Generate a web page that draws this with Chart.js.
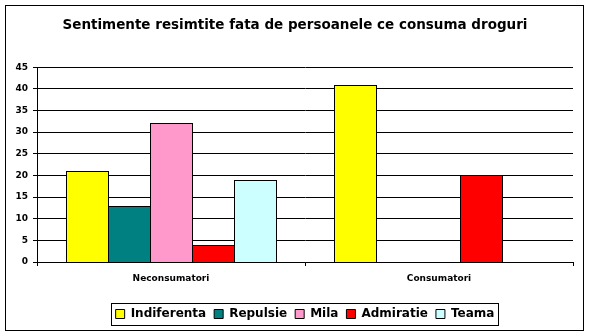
<!DOCTYPE html>
<html>
<head>
<meta charset="utf-8">
<script src="https://cdn.jsdelivr.net/npm/chart.js@4/dist/chart.umd.min.js"></script>
<style>
  html, body { margin: 0; padding: 0; background: #ffffff; }
  #wrap { width: 589px; height: 336px; position: relative; }
</style>
</head>
<body>
<div id="wrap"><canvas id="c" width="589" height="336"></canvas></div>
<script>
const titleText = 'Sentimente resimtite fata de persoanele ce consuma droguri';
const categories = ['Neconsumatori', 'Consumatori'];
const seriesNames = ['Indiferenta', 'Repulsie', 'Mila', 'Admiratie', 'Teama'];
const indiferenta = [21, 41];
const repulsie = [13, 0];
const mila = [32, 0];
const admiratie = [4, 20];
const teama = [19, 0];
const yTicks = [0, 5, 10, 15, 20, 25, 30, 35, 40, 45];

const seriesValues = [indiferenta, repulsie, mila, admiratie, teama];
const seriesColors = ['#FFFF00', '#008080', '#FF99CC', '#FF0000', '#CCFFFF'];

const FONT = '"DejaVu Sans", "Liberation Sans", Arial, sans-serif';

const framePlugin = {
  id: 'frame',
  beforeDraw(chart) {
    const ctx = chart.ctx;
    ctx.save();
    ctx.fillStyle = '#ffffff';
    ctx.fillRect(0, 0, chart.width, chart.height);
    ctx.restore();
  },
  afterLayout(chart) {
    const lg = chart.legend;
    if (lg) { lg.left += 32; }
    const tt = chart.titleBlock;
    if (tt) { tt.left += 6; tt.right += 6; }
  },
  afterDatasetsUpdate(chart) {
    // snap library-computed bar geometry to whole pixels for crisp outlines
    chart.data.datasets.forEach((d, i) => {
      const meta = chart.getDatasetMeta(i);
      meta.data.forEach(el => {
        const left = Math.round(el.x - el.width / 2);
        const w = Math.round(el.width) + 1;
        el.width = w;
        el.x = left + w / 2;
        el.y = Math.round(el.y);
        el.base = Math.round(el.base) + 1;
      });
    });
  },
  afterDraw(chart) {
    const ctx = chart.ctx;
    ctx.save();
    ctx.strokeStyle = '#000000';
    ctx.lineWidth = 1;
    ctx.strokeRect(5.5, 5.5, 578, 325);
    const lg = chart.legend;
    if (lg && lg.legendHitBoxes && lg.legendHitBoxes.length) {
      let l = Infinity, r = -Infinity, t = Infinity, b = -Infinity;
      lg.legendHitBoxes.forEach(h => {
        l = Math.min(l, h.left); r = Math.max(r, h.left + h.width);
        t = Math.min(t, h.top); b = Math.max(b, h.top + h.height);
      });
      const L = Math.round(l - 5) + 0.5, R = Math.round(r + 4) + 0.5;
      const T = Math.round(t - 5) + 0.5, B = Math.round(b + 5) + 0.5;
      ctx.strokeRect(L, T, R - L, B - T);
    }
    ctx.restore();
  }
};

new Chart(document.getElementById('c'), {
  type: 'bar',
  data: {
    labels: categories,
    datasets: seriesNames.map((n, i) => ({
      label: n,
      data: seriesValues[i],
      backgroundColor: seriesColors[i],
      borderColor: '#000000',
      borderWidth: 1,
      borderSkipped: false,
      inflateAmount: 0,
      categoryPercentage: 0.7836,
      barPercentage: 1.0
    }))
  },
  options: {
    responsive: false,
    animation: false,
    devicePixelRatio: 1,
    layout: { padding: { left: 5, right: 16, top: 5, bottom: 6 } },
    plugins: {
      title: {
        display: true,
        text: titleText,
        color: '#000000',
        font: { family: FONT, size: 13.5, weight: 'bold', lineHeight: 1.2 },
        padding: { top: 12, bottom: 34 }
      },
      legend: {
        display: true,
        position: 'bottom',
        labels: {
          color: '#000000',
          font: { family: FONT, size: 12, weight: 'bold', lineHeight: 1.2 },
          boxWidth: 9,
          boxHeight: 9,
          padding: 8,
          generateLabels(chart) {
            return chart.data.datasets.map((d, i) => ({
              text: d.label,
              fillStyle: d.backgroundColor,
              strokeStyle: '#000000',
              lineWidth: 1,
              hidden: false,
              datasetIndex: i,
              fontColor: '#000000'
            }));
          }
        }
      },
      tooltip: { enabled: false }
    },
    scales: {
      x: {
        offset: true,
        afterFit(s) { s.height = 38; },
        grid: {
          offset: true,
          drawOnChartArea: false,
          drawTicks: true,
          tickLength: 4,
          color: '#000000',
          lineWidth: 1
        },
        border: { display: true, color: '#000000', width: 1 },
        ticks: {
          color: '#000000',
          padding: 7,
          maxRotation: 0,
          font: { family: FONT, size: 9, weight: 'bold' }
        }
      },
      y: {
        min: 0,
        max: 45,
        afterFit(s) { s.width = 32; },
        afterBuildTicks(s) { s.ticks = yTicks.map(v => ({ value: v })); },
        grid: {
          drawOnChartArea: true,
          drawTicks: true,
          tickLength: 4,
          color: '#000000',
          lineWidth: 1
        },
        border: { display: true, color: '#000000', width: 1 },
        ticks: {
          color: '#000000',
          padding: 5,
          font: { family: FONT, size: 9, weight: 'bold' }
        }
      }
    }
  },
  plugins: [framePlugin]
});
</script>
</body>
</html>
